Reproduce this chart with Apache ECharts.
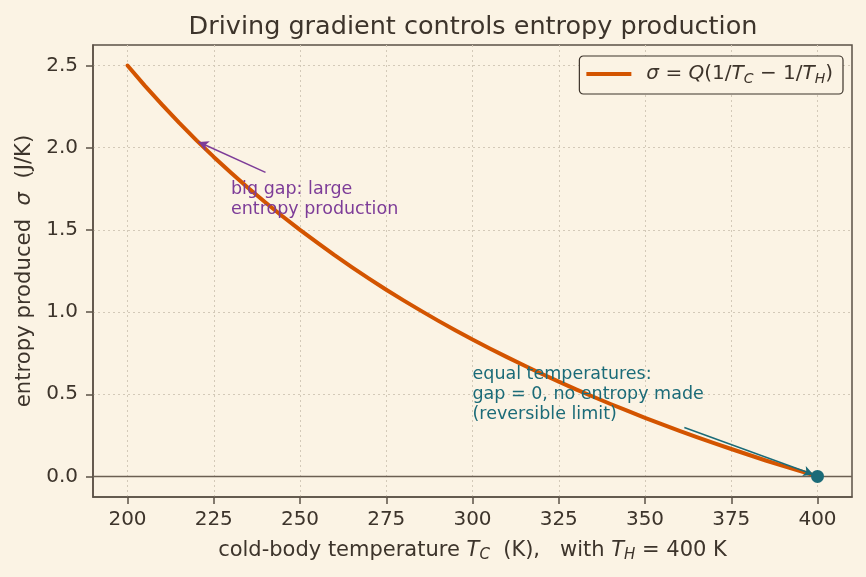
<!DOCTYPE html>
<html><head><meta charset="utf-8">
<script src="https://cdn.jsdelivr.net/npm/echarts@6/dist/echarts.min.js"></script>
<style>html,body{margin:0;padding:0;background:#fbf3e4}#c{width:866px;height:577px}</style>
</head><body><div id="c"></div>
<script>
// ---- data ----
const tempC = [200,205,210,215,220,225,230,235,240,245,250,255,260,265,270,275,280,285,290,295,300,305,310,315,320,325,330,335,340,345,350,355,360,365,370,375,380,385,390,395,400];
const sigma = [2.500,2.378,2.262,2.151,2.045,1.944,1.848,1.755,1.667,1.582,1.500,1.422,1.346,1.274,1.204,1.136,1.071,1.009,0.948,0.890,0.833,0.779,0.726,0.675,0.625,0.577,0.530,0.485,0.441,0.399,0.357,0.317,0.278,0.240,0.203,0.167,0.132,0.097,0.064,0.032,0.000];
const xTicks = [200,225,250,275,300,325,350,375,400];
const yTicks = [0,0.5,1.0,1.5,2.0,2.5];
const eqPoint = [400, 0];
const gapText = ['big gap: large', 'entropy production'];
const gapTextAt = [230, 1.6];
const gapArrowFrom = [240, 1.85];
const gapArrowTo = [220.6, 2.035];
const eqText = ['equal temperatures:', 'gap = 0, no entropy made', '(reversible limit)'];
const eqTextAt = [300, 0.35];
const eqArrowFrom = [361.4, 0.298];
const eqArrowTo = [398.8, 0.012];

const BG = '#fbf3e4', INK = '#3d342b', SPINE = '#5b5146', GRIDC = '#d3c9b8';
const ORANGE = '#d35400', PURPLE = '#7d3c98', TEAL = '#1b6b78';
const FONT = '"DejaVu Sans", sans-serif';

const chart = echarts.init(document.getElementById('c'), null, {renderer: 'canvas'});
const curveName = 'curve';

const axisCommon = {
  type: 'value',
  axisLine: {show: true, onZero: false, lineStyle: {color: SPINE, width: 1.5}},
  axisTick: {show: true, inside: false, length: 7, lineStyle: {color: SPINE, width: 1.5}},
  splitLine: {show: true, lineStyle: {color: GRIDC, width: 1, type: [2, 3]}},
  nameLocation: 'middle'
};

chart.setOption({
  animation: false,
  backgroundColor: BG,
  title: {
    text: 'Driving gradient controls entropy production',
    left: 473, top: 14, textAlign: 'center', padding: 0,
    textStyle: {fontFamily: FONT, fontSize: 25.5, fontWeight: 'normal', color: INK}
  },
  grid: {left: 93, right: 14, top: 45, bottom: 80, show: true, borderColor: SPINE, borderWidth: 1.5, backgroundColor: 'transparent', containLabel: false},
  legend: {
    data: [{name: curveName, icon: 'rect', itemStyle: {color: ORANGE}}],
    right: 23, top: 56,
    padding: [8, 10, 8, 7],
    borderColor: INK, borderWidth: 1.2, borderRadius: 4,
    backgroundColor: BG,
    itemWidth: 45, itemHeight: 4,
    formatter: () => '{sp|}{it|σ}{rm| = }{it|Q}{rm|(1/}{it|T}{sub|C}{rm| − 1/}{it|T}{sub|H}{rm|)}',
    textStyle: {
      fontFamily: FONT, fontSize: 20, color: INK,
      rich: {
        sp: {width: 10},
        it: {fontFamily: FONT, fontSize: 20, fontStyle: 'italic', color: INK},
        rm: {fontFamily: FONT, fontSize: 20, color: INK},
        sub: {fontFamily: FONT, fontSize: 14, fontStyle: 'italic', color: INK, padding: [10, 0, 0, 0]}
      }
    }
  },
  xAxis: Object.assign({}, axisCommon, {
    min: 190, max: 410,
    axisTick: Object.assign({}, axisCommon.axisTick, {customValues: xTicks}),
    axisLabel: {customValues: xTicks, fontFamily: FONT, fontSize: 20, color: INK, margin: 13},
    name: 'cold-body temperature {it|T}{sub|C}{rm|  (K),   with }{it|T}{sub|H}{rm| = 400 K}',
    nameGap: 41,
    nameTextStyle: {
      fontFamily: FONT, fontSize: 21, color: INK,
      rich: {
        it: {fontFamily: FONT, fontSize: 21, fontStyle: 'italic', color: INK},
        rm: {fontFamily: FONT, fontSize: 21, color: INK},
        sub: {fontFamily: FONT, fontSize: 15, fontStyle: 'italic', color: INK, padding: [10, 0, 0, 0]}
      }
    }
  }),
  yAxis: Object.assign({}, axisCommon, {
    min: -0.125, max: 2.625,
    axisTick: Object.assign({}, axisCommon.axisTick, {customValues: yTicks}),
    axisLabel: {customValues: yTicks, fontFamily: FONT, fontSize: 20, color: INK, margin: 15, formatter: v => v.toFixed(1)},
    name: 'entropy produced  {it|σ}  (J/K)',
    nameGap: 57,
    nameRotate: 90,
    nameTextStyle: {
      fontFamily: FONT, fontSize: 21.2, color: INK,
      rich: {it: {fontFamily: FONT, fontSize: 21.2, fontStyle: 'italic', color: INK}}
    }
  }),
  series: [
    {
      name: 'zero', type: 'line', data: [], z: 1, silent: true,
      markLine: {
        silent: true, symbol: ['none', 'none'], label: {show: false},
        lineStyle: {color: '#6b5f52', width: 1.3, type: 'solid'},
        data: [{yAxis: 0}]
      }
    },
    {
      name: curveName, type: 'line', z: 3,
      data: tempC.map((t, i) => [t, sigma[i]]),
      showSymbol: false, symbol: 'none', smooth: false,
      lineStyle: {color: ORANGE, width: 4, cap: 'round', join: 'round'},
      itemStyle: {color: ORANGE}
    },
    {
      name: 'eq', type: 'scatter', z: 5, data: [eqPoint], symbolSize: 13,
      itemStyle: {color: TEAL, opacity: 1}
    },
    {
      name: 'gapArrow', type: 'line', data: [], z: 4,
      markLine: {
        silent: true, symbol: ['none', 'arrow'], symbolSize: [8, 10], label: {show: false},
        lineStyle: {color: PURPLE, width: 1.5, type: 'solid'},
        data: [[{coord: gapArrowFrom}, {coord: gapArrowTo}]]
      }
    },
    {
      name: 'eqArrow', type: 'line', data: [], z: 4,
      markLine: {
        silent: true, symbol: ['none', 'arrow'], symbolSize: [8, 10], label: {show: false},
        lineStyle: {color: TEAL, width: 1.5, type: 'solid'},
        data: [[{coord: eqArrowFrom}, {coord: eqArrowTo}]]
      }
    }
  ]
});

function annText(lines, at, color) {
  const p = chart.convertToPixel({gridIndex: 0}, at);
  const lh = 20;
  return {
    type: 'text', z: 10, silent: true,
    x: p[0], y: p[1] - (lines.length - 1) * lh - 14,
    style: {
      text: lines.join('\n'), fill: color,
      font: '17.5px ' + FONT, lineHeight: lh,
      align: 'left', verticalAlign: 'top'
    }
  };
}
chart.setOption({graphic: [annText(gapText, gapTextAt, PURPLE), annText(eqText, eqTextAt, TEAL)]});
</script></body></html>
